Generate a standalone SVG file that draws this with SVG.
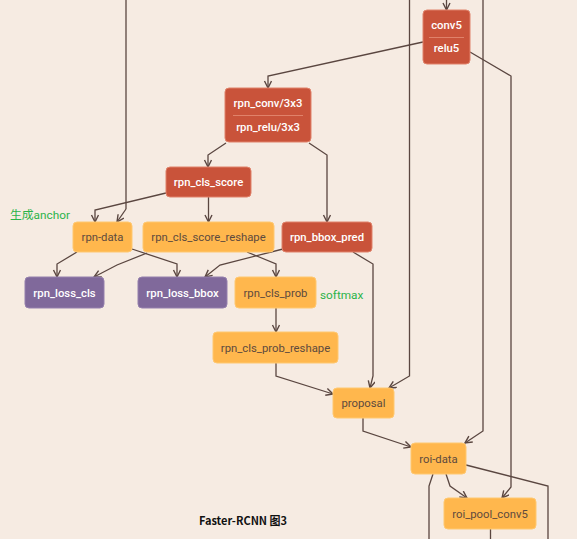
<svg xmlns="http://www.w3.org/2000/svg" width="577" height="539" viewBox="0 0 577 539">
<defs>
<marker id="arr" markerUnits="userSpaceOnUse" markerWidth="10" markerHeight="10" refX="8" refY="4" orient="auto">
<path d="M1,0.5 L8,4 L1,7.5" fill="none" stroke="#5a4640" stroke-width="1.4"/>
</marker>
<style>
.e{fill:none;stroke:#5a4640;stroke-width:1.3}
.ea{fill:none;stroke:#5a4640;stroke-width:1.3;marker-end:url(#arr)}
.red{fill:#c9533a;stroke:#e0826a;stroke-width:1}
.org{fill:#ffb74d;stroke:#ffc870;stroke-width:1}
.pur{fill:#80699b;stroke:#9580ad;stroke-width:1}
.tw{font-family:Roboto,"Liberation Sans",sans-serif;font-size:11.3px;fill:#ffffff;text-anchor:middle;font-weight:500}
.td{font-family:Roboto,"Liberation Sans",sans-serif;font-size:11.3px;fill:#5d4a3e;text-anchor:middle}
.tg{font-family:Roboto,"Noto Sans CJK SC",sans-serif;font-size:11.8px;fill:#2bb34a}
</style>
</defs>
<rect width="577" height="539" fill="#f6ebe2"/>
<g id="connectors">
<polyline class="ea" points="446.5,0 446.5,10"/>
<polyline class="e" points="126,0 126,209"/>
<polyline class="ea" points="126,209 117,222"/>
<polyline class="ea" points="423,42 268,76 268,88"/>
<polyline class="ea" points="470,52 511,76 511,487 502,498"/>
<polyline class="ea" points="409.5,0 409.5,376 389,388"/>
<polyline class="ea" points="483,0 483,431 465,443"/>
<polyline class="ea" points="226,143 208,155 208,167"/>
<polyline class="ea" points="309,143 327,155 327,222"/>
<polyline class="ea" points="166,193 95,210 95,222"/>
<polyline class="ea" points="208.5,197 208.5,222"/>
<polyline class="ea" points="77,252 57,264 57,277"/>
<polyline class="ea" points="132,249 177,264 177,277"/>
<polyline class="ea" points="147,253 117,265 94,277"/>
<polyline class="ea" points="247,252 276,264 276,277"/>
<polyline class="ea" points="283,249 220,265 205,277"/>
<polyline class="ea" points="353,252 373,264 373,376 370,388"/>
<polyline class="ea" points="276,308 276,332"/>
<polyline class="ea" points="276,363 276,376 333,394"/>
<polyline class="ea" points="363,418 363,431 411,447"/>
<polyline class="ea" points="446,474 450,486 467,498"/>
<polyline class="e" points="433,474 429,486 429,539"/>
<polyline class="e" points="466,465 548,486 548,539"/>
<polyline class="e" points="490.5,529 490.5,539"/>
</g>
<g id="conv5">
<rect class="red" x="423" y="10" width="47" height="54" rx="4"/>
<text class="tw" x="446.5" y="29">conv5</text>
<line x1="429" y1="37.5" x2="464" y2="37.5" stroke="#e0826a" stroke-width="1"/>
<text class="tw" x="446.5" y="52">relu5</text>
</g>
<g id="rpn_conv">
<rect class="red" x="225" y="88" width="86" height="54" rx="4"/>
<text class="tw" x="268" y="107">rpn_conv/3x3</text>
<line x1="233" y1="115.5" x2="303" y2="115.5" stroke="#e0826a" stroke-width="1"/>
<text class="tw" x="268" y="131">rpn_relu/3x3</text>
</g>
<g id="rpn_cls_score">
<rect class="red" x="166" y="167" width="85" height="30" rx="4"/>
<text class="tw" x="208.5" y="186">rpn_cls_score</text>
</g>
<g id="rpn-data">
<rect class="org" x="73" y="222" width="59" height="30" rx="4"/>
<text class="td" x="102.5" y="241">rpn-data</text>
</g>
<g id="rpn_cls_score_reshape">
<rect class="org" x="143" y="222" width="131" height="30" rx="4"/>
<text class="td" x="208.5" y="241">rpn_cls_score_reshape</text>
</g>
<g id="rpn_bbox_pred">
<rect class="red" x="282" y="222" width="90" height="30" rx="4"/>
<text class="tw" x="327" y="241">rpn_bbox_pred</text>
</g>
<g id="rpn_loss_cls">
<rect class="pur" x="25" y="277" width="79" height="31" rx="4"/>
<text class="tw" x="64.5" y="297">rpn_loss_cls</text>
</g>
<g id="rpn_loss_bbox">
<rect class="pur" x="138" y="277" width="89" height="31" rx="4"/>
<text class="tw" x="182.5" y="297">rpn_loss_bbox</text>
</g>
<g id="rpn_cls_prob">
<rect class="org" x="235" y="277" width="81" height="31" rx="4"/>
<text class="td" x="275.5" y="297">rpn_cls_prob</text>
</g>
<g id="rpn_cls_prob_reshape">
<rect class="org" x="213" y="332" width="125" height="31" rx="4"/>
<text class="td" x="275.5" y="352">rpn_cls_prob_reshape</text>
</g>
<g id="proposal">
<rect class="org" x="333" y="388" width="61" height="30" rx="4"/>
<text class="td" x="363.5" y="407">proposal</text>
</g>
<g id="roi-data">
<rect class="org" x="411" y="443" width="55" height="31" rx="4"/>
<text class="td" x="438.5" y="463">roi-data</text>
</g>
<g id="roi_pool_conv5">
<rect class="org" x="444" y="498" width="92" height="31" rx="4"/>
<text class="td" x="490" y="518">roi_pool_conv5</text>
</g>
<text class="tg" x="10" y="219">生成anchor</text>
<text class="tg" x="320" y="299">softmax</text>
<text x="243" y="525" font-family="'Noto Sans CJK SC','Liberation Sans',sans-serif" font-size="11" font-weight="bold" fill="#111111" text-anchor="middle">Faster-RCNN 图3</text>
</svg>
